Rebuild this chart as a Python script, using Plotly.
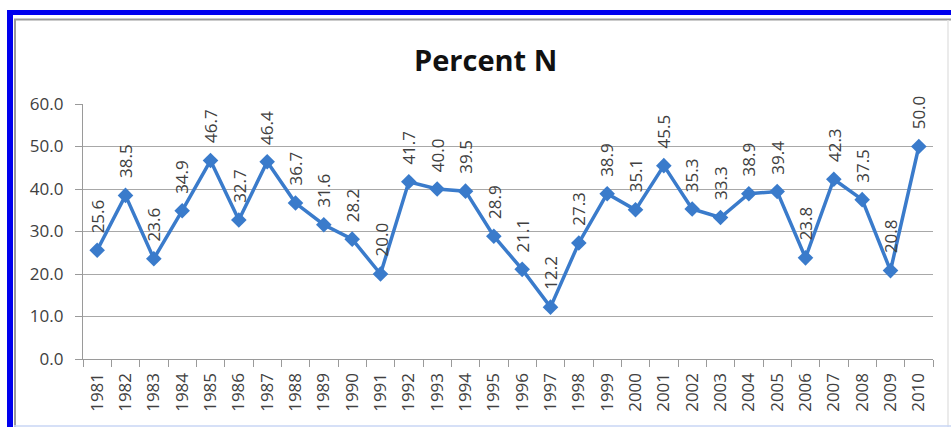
import plotly.graph_objects as go

# Annual percent N, 1981-2010
years = [str(y) for y in range(1981, 2011)]
percent_n = [25.6, 38.5, 23.6, 34.9, 46.7, 32.7, 46.4, 36.7, 31.6, 28.2,
             20.0, 41.7, 40.0, 39.5, 28.9, 21.1, 12.2, 27.3, 38.9, 35.1,
             45.5, 35.3, 33.3, 38.9, 39.4, 23.8, 42.3, 37.5, 20.8, 50.0]
y_ticks = [0, 10, 20, 30, 40, 50, 60]
y_tick_text = ["%.1f" % v for v in y_ticks]

W, H = 951, 427
L, R, T, B = 83, 18, 104, 68
pw, ph = W - L - R, H - T - B

LINE_BLUE = "#3a7bcb"
TXT = "#404040"
GRID = "#a8a8a8"
FONT = "Open Sans"


def px(x):
    return (x - L) / pw


def py(y):
    return (H - B - y) / ph


fig = go.Figure()
fig.add_trace(go.Scatter(
    x=years, y=percent_n, mode="lines+markers",
    line=dict(color=LINE_BLUE, width=3.5),
    marker=dict(symbol="diamond", size=12, color=LINE_BLUE),
    showlegend=False, hoverinfo="x+y",
))

# rotated value labels above each point (category index positions)
for i, v in enumerate(percent_n):
    fig.add_annotation(
        x=i, y=v, xref="x", yref="y", text="%.1f" % v,
        textangle=-90, showarrow=False, xanchor="center", yanchor="bottom",
        yshift=15, font=dict(family=FONT, size=17, color=TXT),
    )

fig.add_annotation(
    x=px(485), y=py(60), xref="paper", yref="paper", text="<b>Percent N</b>",
    showarrow=False, xanchor="center", yanchor="middle",
    font=dict(family=FONT, size=29, color="#111111"),
)

# outer frame
shapes = [
    dict(type="line", xref="paper", yref="paper", x0=px(10), x1=px(10), y0=py(12), y1=py(430),
         line=dict(color="#0000ee", width=6)),
    dict(type="line", xref="paper", yref="paper", x0=px(7), x1=px(955), y0=py(12.5), y1=py(12.5),
         line=dict(color="#0000ee", width=5)),
    dict(type="line", xref="paper", yref="paper", x0=px(15), x1=px(15), y0=py(19), y1=py(430),
         line=dict(color="#9a9a9a", width=2)),
    dict(type="line", xref="paper", yref="paper", x0=px(14), x1=px(955), y0=py(19.5), y1=py(19.5),
         line=dict(color="#9a9a9a", width=2)),
    dict(type="line", xref="paper", yref="paper", x0=px(948), x1=px(948), y0=py(20), y1=py(430),
         line=dict(color="#e4e4e4", width=1.5)),
    dict(type="line", xref="paper", yref="paper", x0=px(14), x1=px(955), y0=py(426), y1=py(426),
         line=dict(color="#c9d6f5", width=1.5)),
]

fig.update_layout(
    width=W, height=H,
    margin=dict(l=L, r=R, t=T, b=B, pad=0),
    paper_bgcolor="white", plot_bgcolor="white",
    shapes=shapes,
    font=dict(family=FONT, color=TXT),
)
fig.update_xaxes(
    type="category", categoryorder="array", categoryarray=years,
    range=[-0.5, len(years) - 0.5],
    tickangle=-90, tickson="boundaries", ticks="outside", ticklen=7,
    tickcolor="#9a9a9a", tickwidth=1.3,
    showline=True, linecolor="#9a9a9a", linewidth=1.3,
    showgrid=False, tickfont=dict(family=FONT, size=17, color=TXT),
    ticklabelstandoff=6,
)
fig.update_yaxes(
    range=[0, 60], tickvals=y_ticks, ticktext=y_tick_text,
    ticks="outside", ticklen=7, tickcolor="#9a9a9a", tickwidth=1.3,
    showline=True, linecolor="#9a9a9a", linewidth=1.3,
    showgrid=True, gridcolor=GRID, gridwidth=1.4, zeroline=False,
    tickfont=dict(family=FONT, size=17, color=TXT),
    ticklabelstandoff=8,
)

fig.write_html("out.html")
